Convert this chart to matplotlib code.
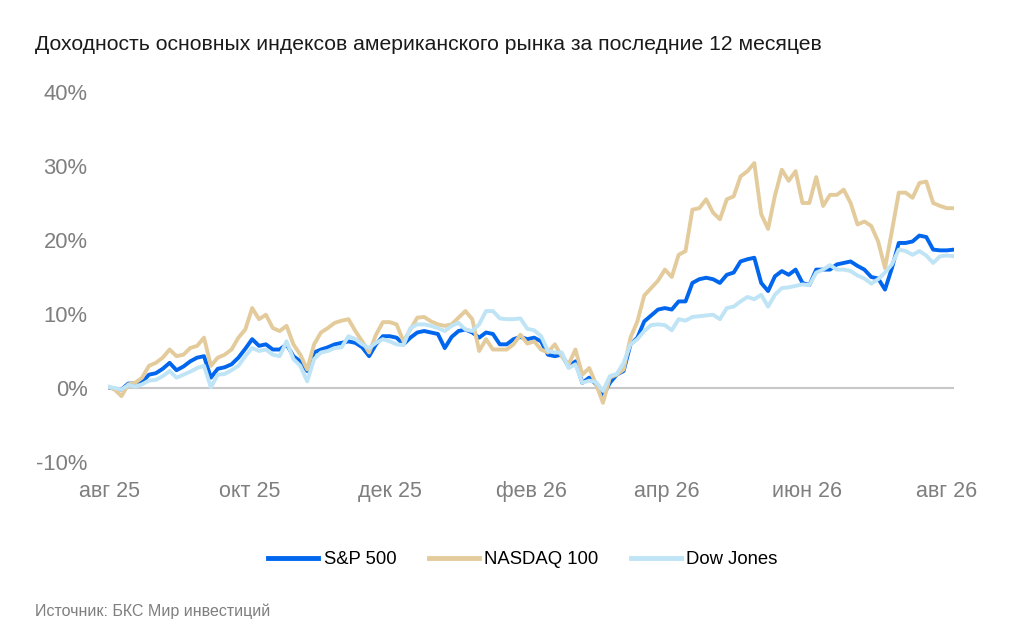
import matplotlib
matplotlib.use("Agg")
import matplotlib.pyplot as plt
import pandas as pd

plt.rcParams['font.family'] = ['Liberation Sans', 'DejaVu Sans']

# Данные: доходность, % (точки каждые 3 дня)
dates = pd.date_range('2025-07-31', periods=124, freq='3D')

sp500 = [0.1, -0.1, -0.2, 0.6, 0.6, 0.8, 1.8, 2.0, 2.6, 3.4,
         2.4, 2.9, 3.6, 4.1, 4.3, 1.4, 2.6, 2.8, 3.2, 4.1,
         5.3, 6.6, 5.7, 5.9, 5.2, 5.2, 5.9, 4.3, 3.6, 2.3,
         4.8, 5.2, 5.5, 5.9, 6.1, 6.3, 6.1, 5.5, 4.3, 5.9,
         7.0, 7.0, 6.8, 5.9, 6.8, 7.5, 7.7, 7.5, 7.3, 5.4,
         6.9, 7.7, 7.9, 7.5, 6.8, 7.5, 7.3, 5.9, 5.9, 6.6,
         6.9, 6.6, 6.8, 6.3, 4.5, 4.3, 4.5, 2.9, 3.6, 0.7,
         1.4, 0.5, -1.1, 0.7, 1.8, 2.3, 5.9, 6.8, 9.0, 9.8,
         10.6, 10.8, 10.6, 11.7, 11.7, 14.2, 14.7, 14.9, 14.7, 14.2,
         15.3, 15.6, 17.1, 17.4, 17.6, 14.2, 13.1, 15.1, 15.8, 15.3,
         16.0, 14.2, 13.9, 16.0, 16.0, 16.0, 16.7, 16.9, 17.1, 16.5,
         16.0, 15.0, 14.8, 13.3, 16.2, 19.6, 19.6, 19.8, 20.6, 20.4,
         18.7, 18.6, 18.6, 18.7]

nasdaq100 = [0.2, -0.2, -1.1, 0.5, 0.7, 1.4, 3.0, 3.4, 4.1, 5.2,
             4.3, 4.5, 5.4, 5.7, 6.8, 3.0, 4.1, 4.5, 5.2, 6.8,
             7.9, 10.8, 9.3, 9.9, 8.1, 7.7, 8.4, 5.9, 4.5, 2.5,
             5.9, 7.5, 8.1, 8.8, 9.1, 9.3, 7.7, 6.3, 4.8, 7.2,
             8.9, 8.9, 8.6, 6.3, 7.9, 9.5, 9.6, 9.0, 8.6, 8.4,
             8.6, 9.5, 10.4, 9.3, 5.0, 6.6, 5.2, 5.2, 5.2, 5.9,
             7.2, 6.0, 6.3, 5.2, 4.8, 5.9, 4.3, 3.2, 5.2, 1.8,
             2.7, 0.5, -2.0, 1.4, 1.8, 2.5, 6.8, 9.0, 12.5, 13.5,
             14.5, 16.0, 15.0, 18.0, 18.5, 24.1, 24.3, 25.5, 23.7, 22.8,
             25.5, 25.9, 28.6, 29.3, 30.4, 23.5, 21.5, 26.0, 29.5, 28.0,
             29.3, 25.0, 25.0, 28.5, 24.6, 26.1, 26.1, 26.8, 25.0, 22.1,
             22.5, 21.9, 19.8, 16.2, 21.2, 26.4, 26.4, 25.7, 27.7, 27.9,
             25.0, 24.6, 24.3, 24.3]

dow_jones = [0.2, 0.0, -0.2, 0.4, 0.2, 0.5, 1.0, 1.1, 1.6, 2.3,
             1.4, 1.8, 2.2, 2.7, 3.0, 0.1, 1.8, 1.9, 2.4, 3.0,
             4.3, 5.4, 5.0, 5.2, 4.5, 4.3, 6.3, 3.9, 3.0, 0.9,
             3.9, 4.8, 5.0, 5.4, 5.5, 7.0, 6.6, 5.9, 5.4, 6.1,
             6.6, 6.3, 5.9, 5.8, 8.1, 8.6, 8.6, 8.4, 8.1, 7.7,
             8.4, 8.8, 7.9, 7.7, 8.6, 10.4, 10.4, 9.4, 9.3, 9.3,
             9.4, 8.0, 7.8, 7.0, 5.0, 4.8, 4.8, 2.7, 3.2, 0.7,
             1.0, 0.8, -0.4, 1.6, 1.9, 3.4, 5.9, 6.6, 7.7, 8.5,
             8.6, 8.5, 7.8, 9.3, 9.1, 9.6, 9.7, 9.8, 9.9, 9.3,
             10.8, 11.0, 11.7, 12.3, 12.0, 12.6, 11.0, 12.6, 13.5, 13.6,
             13.8, 14.0, 13.9, 15.6, 16.0, 16.6, 16.0, 16.0, 15.8, 15.2,
             14.8, 14.1, 14.7, 15.6, 16.7, 18.7, 18.5, 18.0, 18.5, 17.9,
             16.9, 17.8, 17.9, 17.8]

series = [("S&P 500", sp500, "#0066ee"),
          ("NASDAQ 100", nasdaq100, "#e3cb9c"),
          ("Dow Jones", dow_jones, "#bfe4f5")]

tick_dates = pd.to_datetime(['2025-08-01', '2025-10-01', '2025-12-01', '2026-02-01',
                             '2026-04-01', '2026-06-01', '2026-08-01'])
tick_labels = ['авг 25', 'окт 25', 'дек 25', 'фев 26', 'апр 26', 'июн 26', 'авг 26']

fig = plt.figure(figsize=(10.24, 6.39), dpi=100)
ax = fig.add_axes([107.7 / 1024, 1 - 462 / 639, (953.8 - 107.7) / 1024, 370 / 639])

ax.axhline(0, color="#c8c8c8", lw=1.5, zorder=1)
for name, vals, col in series:
    ax.plot(dates, vals, color=col, lw=2.8, label=name, zorder=2)

ax.set_xlim(dates[0], dates[-1])
ax.set_ylim(-10, 40)
ax.set_yticks(range(-10, 41, 10))
ax.set_yticklabels([f"{v}%" for v in range(-10, 41, 10)])
ax.set_xticks(tick_dates)
ax.set_xticklabels(tick_labels)
ax.tick_params(axis='y', length=0, pad=14.5, labelsize=15.8, labelcolor="#7f7f7f")
ax.tick_params(axis='x', length=0, pad=14, labelsize=15.5, labelcolor="#7f7f7f")
for s in ax.spines.values():
    s.set_visible(False)

fig.text(35 / 1024, 1 - 45 / 639, "Доходность основных индексов американского рынка за последние 12 месяцев",
         fontsize=15.2, color="#1a1a1a", va="center", ha="left")

leg = fig.legend(loc="center", bbox_to_anchor=(523 / 1024, 1 - 560 / 639), ncol=3,
                 frameon=False, fontsize=13.3, handlelength=2.7, columnspacing=1.75,
                 handletextpad=0.3)
for line in leg.get_lines():
    line.set_linewidth(3.5)

fig.text(35 / 1024, 1 - 611 / 639, "Источник: БКС Мир инвестиций",
         fontsize=11.5, color="#7f7f7f", va="center", ha="left")

fig.savefig("out.png", dpi=100)
